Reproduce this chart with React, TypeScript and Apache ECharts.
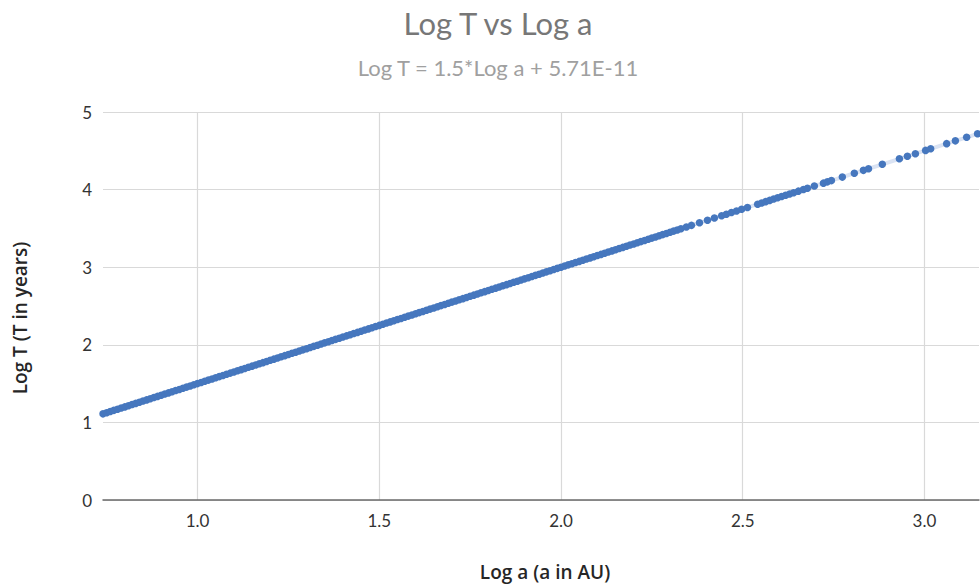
import React, { useEffect, useRef } from "react";
import * as echarts from "echarts";

const titleText = "Log T vs Log a";
const subtitleText = "Log T = 1.5*Log a + 5.71E-11";
const xAxisName = "Log a (a in AU)";
const yAxisName = "Log T (T in years)";

const xTickValues = [1.0, 1.5, 2.0, 2.5, 3.0];

const logA = [
  0.74, 0.75, 0.76, 0.77, 0.78, 0.79,
  0.8, 0.81, 0.82, 0.83, 0.84, 0.85, 0.86, 0.87, 0.88, 0.89,
  0.9, 0.91, 0.92, 0.93, 0.94, 0.95, 0.96, 0.97, 0.98, 0.99,
  1.0, 1.01, 1.02, 1.03, 1.04, 1.05, 1.06, 1.07, 1.08, 1.09,
  1.1, 1.11, 1.12, 1.13, 1.14, 1.15, 1.16, 1.17, 1.18, 1.19,
  1.2, 1.21, 1.22, 1.23, 1.24, 1.25, 1.26, 1.27, 1.28, 1.29,
  1.3, 1.31, 1.32, 1.33, 1.34, 1.35, 1.36, 1.37, 1.38, 1.39,
  1.4, 1.41, 1.42, 1.43, 1.44, 1.45, 1.46, 1.47, 1.48, 1.49,
  1.5, 1.51, 1.52, 1.53, 1.54, 1.55, 1.56, 1.57, 1.58, 1.59,
  1.6, 1.61, 1.62, 1.63, 1.64, 1.65, 1.66, 1.67, 1.68, 1.69,
  1.7, 1.71, 1.72, 1.73, 1.74, 1.75, 1.76, 1.77, 1.78, 1.79,
  1.8, 1.81, 1.82, 1.83, 1.84, 1.85, 1.86, 1.87, 1.88, 1.89,
  1.9, 1.91, 1.92, 1.93, 1.94, 1.95, 1.96, 1.97, 1.98, 1.99,
  2.0, 2.01, 2.02, 2.03, 2.04, 2.05, 2.06, 2.07, 2.08, 2.09,
  2.1, 2.11, 2.12, 2.13, 2.14, 2.15, 2.16, 2.17, 2.18, 2.19,
  2.2, 2.21, 2.22, 2.23, 2.24, 2.25, 2.26, 2.27, 2.28, 2.29,
  2.3, 2.31, 2.32, 2.33,
  2.345, 2.359, 2.381, 2.403, 2.422, 2.442, 2.455, 2.469, 2.483, 2.497,
  2.513, 2.541, 2.552, 2.563, 2.574, 2.585, 2.596, 2.607, 2.618, 2.629,
  2.64, 2.653, 2.667, 2.678, 2.697, 2.722, 2.733, 2.744, 2.774, 2.807,
  2.832, 2.846, 2.884, 2.931, 2.953, 2.975, 3.003, 3.017, 3.061, 3.085,
  3.116, 3.146,
];

const logT = [
  1.11, 1.125, 1.14, 1.155, 1.17, 1.185,
  1.2, 1.215, 1.23, 1.245, 1.26, 1.275, 1.29, 1.305, 1.32, 1.335,
  1.35, 1.365, 1.38, 1.395, 1.41, 1.425, 1.44, 1.455, 1.47, 1.485,
  1.5, 1.515, 1.53, 1.545, 1.56, 1.575, 1.59, 1.605, 1.62, 1.635,
  1.65, 1.665, 1.68, 1.695, 1.71, 1.725, 1.74, 1.755, 1.77, 1.785,
  1.8, 1.815, 1.83, 1.845, 1.86, 1.875, 1.89, 1.905, 1.92, 1.935,
  1.95, 1.965, 1.98, 1.995, 2.01, 2.025, 2.04, 2.055, 2.07, 2.085,
  2.1, 2.115, 2.13, 2.145, 2.16, 2.175, 2.19, 2.205, 2.22, 2.235,
  2.25, 2.265, 2.28, 2.295, 2.31, 2.325, 2.34, 2.355, 2.37, 2.385,
  2.4, 2.415, 2.43, 2.445, 2.46, 2.475, 2.49, 2.505, 2.52, 2.535,
  2.55, 2.565, 2.58, 2.595, 2.61, 2.625, 2.64, 2.655, 2.67, 2.685,
  2.7, 2.715, 2.73, 2.745, 2.76, 2.775, 2.79, 2.805, 2.82, 2.835,
  2.85, 2.865, 2.88, 2.895, 2.91, 2.925, 2.94, 2.955, 2.97, 2.985,
  3.0, 3.015, 3.03, 3.045, 3.06, 3.075, 3.09, 3.105, 3.12, 3.135,
  3.15, 3.165, 3.18, 3.195, 3.21, 3.225, 3.24, 3.255, 3.27, 3.285,
  3.3, 3.315, 3.33, 3.345, 3.36, 3.375, 3.39, 3.405, 3.42, 3.435,
  3.45, 3.465, 3.48, 3.495,
  3.518, 3.539, 3.572, 3.605, 3.633, 3.663, 3.683, 3.704, 3.725, 3.746,
  3.77, 3.812, 3.828, 3.845, 3.861, 3.878, 3.894, 3.911, 3.927, 3.944,
  3.96, 3.98, 4.001, 4.017, 4.046, 4.083, 4.1, 4.116, 4.161, 4.211,
  4.248, 4.269, 4.326, 4.397, 4.43, 4.463, 4.505, 4.526, 4.592, 4.628,
  4.674, 4.719,
];

const FONT = "Lato, 'Open Sans', sans-serif";
const NAME_FONT = "'Open Sans', Lato, sans-serif";

export default function App() {
  const ref = useRef<HTMLDivElement>(null);

  useEffect(() => {
    if (!ref.current) return;
    const chart = echarts.init(ref.current, undefined, { renderer: "svg" });
    const points = logA.map((x, i) => [x, logT[i]]);

    chart.setOption({
      animation: false,
      backgroundColor: "#ffffff",
      grid: { left: 103, right: 1, top: 112, bottom: 85, containLabel: false },
      xAxis: {
        type: "value",
        min: 0.74,
        max: 3.15,
        axisLine: { show: true, lineStyle: { color: "#6a6a6a", width: 1.5 } },
        axisTick: { show: false, customValues: xTickValues },
        axisLabel: {
          customValues: xTickValues,
          formatter: (v: number) => v.toFixed(1),
          color: "#333333",
          fontSize: 17,
          fontFamily: FONT,
          margin: 12,
        },
        splitLine: { show: true, lineStyle: { color: "#d9d9d9", width: 1.2 } },
      },
      yAxis: {
        type: "value",
        min: 0,
        max: 5,
        interval: 1,
        axisLine: { show: false },
        axisTick: { show: false },
        axisLabel: {
          color: "#333333",
          fontSize: 17,
          fontFamily: FONT,
          margin: 11,
        },
        splitLine: { show: true, lineStyle: { color: "#d9d9d9", width: 1.2 } },
      },
      graphic: [
        {
          type: "text",
          x: 498,
          y: 23,
          style: {
            text: titleText,
            textAlign: "center",
            textVerticalAlign: "middle",
            font: `31px ${FONT}`,
            fill: "#777777",
          },
        },
        {
          type: "text",
          x: 498,
          y: 67,
          style: {
            text: subtitleText,
            textAlign: "center",
            textVerticalAlign: "middle",
            font: `22px ${FONT}`,
            fill: "#a0a0a0",
          },
        },
        {
          type: "text",
          x: 545,
          y: 572,
          style: {
            text: xAxisName,
            textAlign: "center",
            textVerticalAlign: "middle",
            font: `600 19px ${NAME_FONT}`,
            fill: "#262626",
          },
        },
        {
          type: "text",
          x: 20,
          y: 318,
          rotation: Math.PI / 2,
          style: {
            text: yAxisName,
            textAlign: "center",
            textVerticalAlign: "middle",
            font: `600 19px ${NAME_FONT}`,
            fill: "#262626",
          },
        },
      ],
      series: [
        {
          type: "line",
          data: points,
          showSymbol: false,
          symbol: "none",
          lineStyle: { color: "#4472C4", width: 4, opacity: 0.2 },
          z: 1,
          silent: true,
        },
        {
          type: "scatter",
          data: points,
          symbol: "circle",
          symbolSize: 7.5,
          itemStyle: { color: "#4677BE", opacity: 1 },
          z: 2,
        },
      ],
    });

    return () => chart.dispose();
  }, []);

  return (
    <div
      ref={ref}
      style={{ position: "fixed", left: 0, top: 0, width: 980, height: 585 }}
    />
  );
}
